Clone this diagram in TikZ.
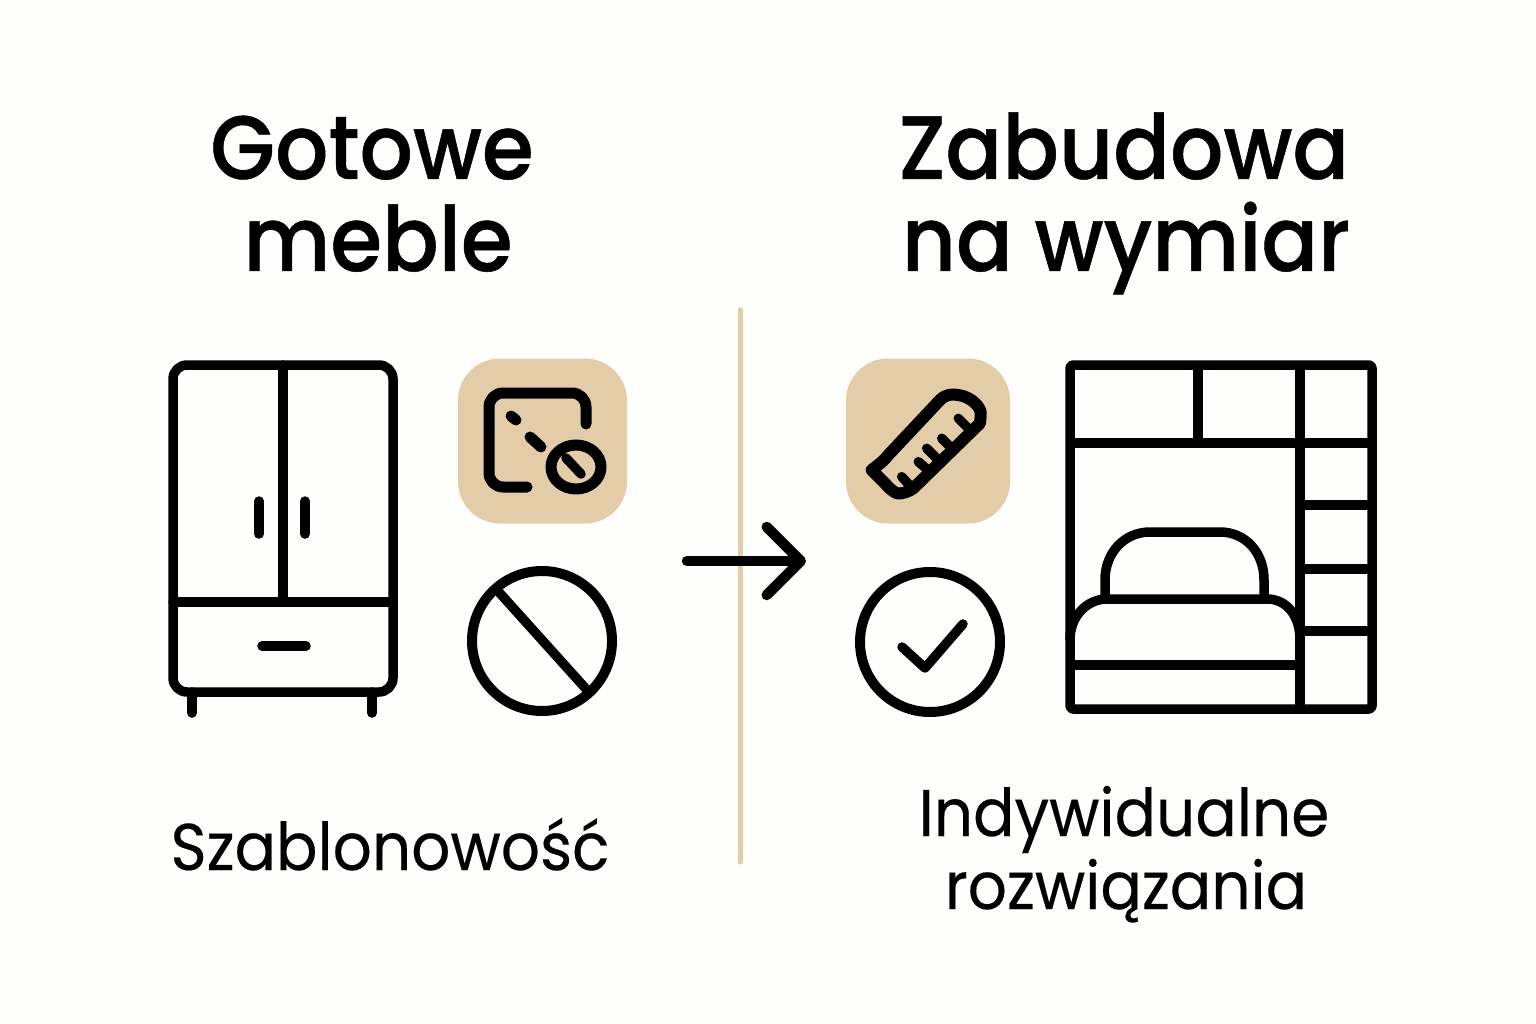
\documentclass[tikz,border=0pt]{standalone}
\usepackage{fontspec}
\usepackage{xcolor}
\usetikzlibrary{arrows.meta}
\newfontfamily\titlefont[FakeStretch=0.93,FakeBold=0.5]{Poppins Medium}
\newfontfamily\labelfont[FakeStretch=0.93,FakeBold=0.3]{Poppins}
\definecolor{paperwhite}{RGB}{254, 254, 252}
\definecolor{tilebeige}{RGB}{227, 204, 168}
\begin{document}
\begin{tikzpicture}[x=1pt,y=-1pt,
    icon/.style={draw=black,line width=9.5pt,line cap=round,line join=round},
    tile/.style={fill=tilebeige,rounded corners=42pt,minimum height=165pt,inner sep=0pt},
    ringmark/.style={circle,draw=black,line width=10pt,minimum size=140pt,inner sep=0pt},
    headline/.style={font=\titlefont\fontsize{90}{90}\selectfont,anchor=base,inner sep=0pt},
    caption/.style={font=\labelfont\fontsize{66}{66}\selectfont,anchor=base,inner sep=0pt}]
    % Background
    \fill[paperwhite] (0,0) rectangle (1536,1024);
    \useasboundingbox (0,0) rectangle (1536,1024);

    % Titles and captions
    \node[headline] (gotowe) at (372,179) {Gotowe};
    \node[headline] (meble) at (378,271) {meble};
    \node[headline] (zabudowa) at (1124,179) {Zabudowa};
    \node[headline] (wymiar) at (1126,271) {na wymiar};
    \node[caption] (szablon) at (390,870) {Szablonowość};
    \node[caption] (indyw) at (1124,836) {Indywidualne};
    \node[caption] (rozw) at (1126,909) {rozwiązania};

    % Divider and arrow
    \coordinate (divtop) at (740,310);
    \coordinate (divbottom) at (740,862);
    \coordinate (arrowstart) at (687,561);
    \coordinate (arrowend) at (806,561);
    \draw[tilebeige,line width=5pt,line cap=round] (divtop) -- (divbottom);
    \draw[icon,line width=10.5pt,-{Straight Barb[length=34pt,width=68pt,round]}] (arrowstart) -- (arrowend);

    % Wardrobe
    \draw[icon,rounded corners=14pt] (173,365) rectangle (393,692);
    \draw[icon] (173,602) -- (393,602);
    \draw[icon] (283,365) -- (283,602);
    \foreach \handle in {259,305} {
        \draw[icon] (\handle,501) -- (\handle,534);
    }
    \draw[icon] (262,646) -- (306,646);
    \foreach \foot in {192,372} {
        \draw[icon] (\foot,692) -- (\foot,713);
    }

    % Left tile with the crossed measure
    \node[tile,minimum width=169pt] (tileleft) at (542.5,441) {};
    \draw[icon,line width=11pt,rounded corners=14pt] (586,424) -- (586,393) -- (489,393) -- (489,487) -- (527,487);
    \draw[icon,line width=11pt] (511,416) -- (516,420);
    \draw[icon,line width=11pt] (530,437) -- (541,447);
    \draw[icon,line width=11pt] (576,467) ellipse (25pt and 22pt);
    \draw[icon] (566,458) -- (581,474);

    % Right tile with the ruler
    \node[tile,minimum width=164pt] (tileright) at (928,441) {};
    \draw[icon,line width=12pt] (871.7,470)
        .. controls (878,465) and (884,461) .. (888.3,455) -- (940,400)
        .. controls (946,394) and (952,394) .. (958.3,395)
        .. controls (972,397) and (982,408) .. (980.7,415)
        .. controls (980.5,419) and (980,421) .. (980,423.3)
        -- (913.3,488.3)
        .. controls (908,492) and (902,494) .. (896.7,493.3)
        .. controls (892,491) and (888,487) .. (885,483.3) -- cycle;
    \draw[icon] (901.7,476.7) -- (910,485.7);
    \draw[icon] (918.3,461.7) -- (930,471.7);
    \draw[icon] (926.7,448.3) -- (938.3,460);
    \draw[icon] (941.7,438.3) -- (951.7,448.3);
    \draw[icon] (958.3,418.3) -- (970,430);

    % Forbidden and allowed marks
    \node[ringmark] (forbidden) at (542,641) {};
    \draw[icon,line cap=butt] (497,590) -- (587,690);
    \node[ringmark] (allowed) at (930,642) {};
    \draw[icon] (902,647) -- (925,668) -- (963,624);

    % Built-in wall unit
    \draw[icon,rounded corners=3pt] (1070,365) rectangle (1372,709);
    \draw[icon,line cap=butt] (1070,443) -- (1372,443);
    \draw[icon,line cap=butt] (1198,365) -- (1198,443);
    \draw[icon,line cap=butt] (1300,365) -- (1300,709);
    \foreach \shelf in {505,569,631} {
        \draw[icon,line cap=butt] (1300,\shelf) -- (1372,\shelf);
    }

    % Bed inside the unit
    \draw[icon,line cap=butt] (1105,598) -- (1105,580)
        .. controls (1105,552) and (1125,532) .. (1150,532) -- (1220,532)
        .. controls (1245,532) and (1264,552) .. (1264,580) -- (1264,598);
    \draw[icon,line cap=butt] (1070,640)
        .. controls (1070,615) and (1088,599) .. (1107,599) -- (1267,599)
        .. controls (1286,599) and (1300,615) .. (1300,640);
    \draw[icon,line cap=butt] (1070,665) -- (1300,665);
\end{tikzpicture}
\end{document}
